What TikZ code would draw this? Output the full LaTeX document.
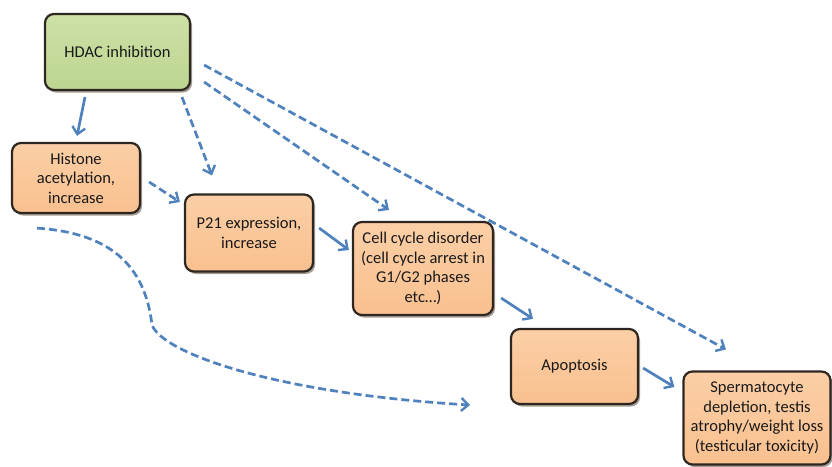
\documentclass[tikz,border=0pt]{standalone}
\usepackage{fontspec}
\setmainfont{Carlito}
\usetikzlibrary{arrows.meta,shadows}
\definecolor{arrowblue}{HTML}{4F81BD}
\definecolor{boxorange}{HTML}{F9C08F}
\definecolor{boxorangetop}{HTML}{FBCFA6}
\definecolor{boxgreen}{HTML}{BCD58F}
\definecolor{boxgreentop}{HTML}{CDE1A8}
\definecolor{boxline}{HTML}{2E2620}
\tikzset{
  basebox/.style={rounded corners=9pt, draw=boxline, line width=2.2pt, align=center,
    font=\fontsize{16.5}{19.5}\selectfont, inner sep=2pt, text=black!90,
    drop shadow={shadow xshift=2pt, shadow yshift=-2.5pt, opacity=0.45, fill=black!70!brown}},
  orangebox/.style={basebox, top color=boxorangetop, bottom color=boxorange},
  greenbox/.style={basebox, top color=boxgreentop, bottom color=boxgreen},
  solidarrow/.style={draw=arrowblue, line width=2.7pt, -{Straight Barb[length=7pt,width=13pt,line width=2.4pt]}},
  dasharrow/.style={solidarrow, dash pattern=on 8pt off 4pt},
}
\begin{document}
\begin{tikzpicture}[x=1pt,y=-1pt]
\useasboundingbox (0,0) rectangle (832,466);
\node[greenbox, minimum width=145pt, minimum height=76pt] (hdac) at (117.5,52) {HDAC inhibition};
\node[orangebox, minimum width=128pt, minimum height=70pt] (histone) at (76,178) {Histone\\acetylation,\\increase};
\node[orangebox, minimum width=128pt, minimum height=77pt] (p21) at (249,233) {P21 expression,\\increase};
\node[orangebox, minimum width=140pt, minimum height=93pt] (cell) at (423,268.5) {Cell cycle disorder\\(cell cycle arrest in\\G1/G2 phases\\etc…)};
\node[orangebox, minimum width=127pt, minimum height=75pt] (apop) at (574.5,366.5) {Apoptosis};
\node[orangebox, minimum width=147pt, minimum height=93pt] (sperm) at (757,418) {Spermatocyte\\depletion, testis\\atrophy/weight loss\\(testicular toxicity)};
\coordinate (curveend) at (470,405);

\draw[solidarrow] ([xshift=-32.5pt,yshift=-6pt]hdac.south) -- ([xshift=1pt,yshift=6pt]histone.north);
\draw[dasharrow] ([xshift=64.5pt,yshift=-6pt]hdac.south) -- ([xshift=-37pt,yshift=18pt]p21.north);
\draw[dasharrow] ([xshift=13pt,yshift=-30pt]hdac.east) -- ([xshift=-34pt,yshift=11pt]cell.north);
\draw[dasharrow] ([xshift=13pt,yshift=-13pt]hdac.east) -- ([xshift=-31pt,yshift=21pt]sperm.north);
\draw[dasharrow] ([xshift=8pt,yshift=-4pt]histone.east) -- ([xshift=-4pt,yshift=31pt]p21.west);
\draw[solidarrow] ([xshift=5pt,yshift=5pt]p21.east) -- ([xshift=-3pt,yshift=18.5pt]cell.west);
\draw[solidarrow] ([xshift=7pt,yshift=-29.5pt]cell.east) -- ([xshift=-41.5pt,yshift=9pt]apop.north);
\draw[solidarrow] ([xshift=4pt,yshift=-1.5pt]apop.east) -- ([xshift=-8pt,yshift=31pt]sperm.west);
\draw[dasharrow] ([xshift=-39pt,yshift=-14pt]histone.south) .. controls +(73,5) and (145,265) .. (152,325)
  .. controls (162,352) and (270,393) .. (curveend);
\end{tikzpicture}
\end{document}
